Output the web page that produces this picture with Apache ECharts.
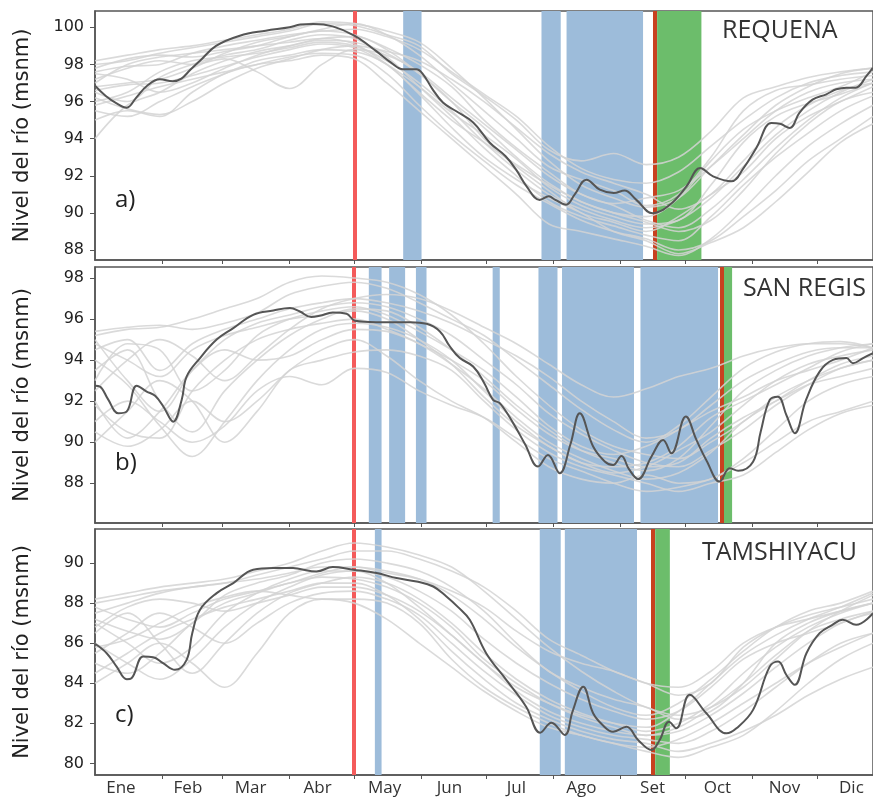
<!DOCTYPE html>
<html>
<head>
<meta charset="utf-8">
<script src="https://cdn.jsdelivr.net/npm/echarts@6/dist/echarts.min.js"></script>
<style>
  html, body { margin: 0; padding: 0; background: #fff; }
  #chart { width: 873px; height: 797px; }
</style>
</head>
<body>
<div id="chart"></div>
<script>
// Day-of-year grid used by the yearly (background) hydrographs
const days = [0,15,30,45,60,75,90,105,120,135,150,165,180,195,210,225,240,255,270,285,300,315,330,345,360];

// Month tick marks (month boundaries) and month labels
const monthTickDays = [31,59,90,120,151,181,212,243,273,304,334];
const monthLabelDays = [12,43,72,103,134,164,195,225,258,288,319,350];
const monthNames = ['Ene','Feb','Mar','Abr','May','Jun','Jul','Ago','Set','Oct','Nov','Dic'];

const stations = ['REQUENA', 'SAN REGIS', 'TAMSHIYACU'];
const panelTags = ['a)', 'b)', 'c)'];
const yTicksA = [88,90,92,94,96,98,100];
const yTicksB = [88,90,92,94,96,98];
const yTicksC = [80,82,84,86,88,90];

// ---------- Requena ----------
const requenaYears = [
  [98.0,98.2,98.6,98.9,99.2,99.5,99.8,100.2,100.1,99.6,99.0,97.5,96.3,95.0,93.4,92.8,93.2,92.6,93.0,94.4,96.2,96.8,97.3,97.6,97.8],
  [96.5,96.0,97.3,98.0,98.5,98.8,99.3,99.6,99.4,98.4,96.8,95.2,93.5,92.0,90.6,89.8,89.3,88.8,88.5,89.8,91.5,93.0,94.3,95.5,96.3],
  [94.0,95.8,96.5,97.5,98.2,98.7,99.0,99.3,99.2,98.6,97.5,96.0,94.0,92.5,91.2,90.0,89.5,89.0,89.8,91.0,92.2,94.0,95.2,96.0,96.8],
  [97.8,98.3,98.5,98.4,98.7,99.0,99.5,99.9,100.2,99.6,98.5,97.0,95.5,94.0,92.5,91.8,91.2,90.4,91.0,93.0,95.5,96.6,96.9,97.2,97.4],
  [95.5,95.2,96.0,96.8,97.5,98.2,98.5,98.8,98.7,98.0,96.4,94.6,93.0,91.8,90.8,90.0,89.0,88.5,87.8,88.4,89.2,90.6,92.2,93.8,94.8],
  [97.2,97.8,98.2,98.0,98.3,97.6,96.7,98.0,98.8,98.5,97.6,96.2,94.8,93.4,92.0,91.0,90.5,90.8,91.2,92.5,94.0,95.5,96.5,97.0,97.2],
  [96.8,97.0,97.2,97.8,98.6,99.2,99.5,99.8,99.6,98.9,98.0,96.8,95.0,93.5,92.2,91.0,90.4,89.6,89.2,90.2,91.8,93.5,95.0,96.2,97.0],
  [95.0,95.5,95.2,96.5,97.5,98.0,98.4,98.6,98.5,97.5,95.8,94.2,92.8,91.5,90.5,89.6,89.0,88.6,88.0,88.5,89.8,91.2,92.8,94.0,95.2],
  [98.2,98.5,98.8,99.0,99.3,99.6,99.9,100.3,100.2,99.8,99.2,97.8,96.2,94.5,92.8,91.5,90.8,90.3,90.8,92.5,94.2,95.8,96.8,97.5,97.8],
  [96.0,96.5,97.6,98.2,98.4,98.6,98.9,99.2,99.0,98.2,97.0,95.5,93.8,92.3,91.0,90.2,89.6,89.2,89.6,90.8,92.5,94.2,95.5,96.5,97.2],
  [97.5,97.2,96.5,97.0,97.8,98.5,99.0,99.4,99.5,98.8,97.5,96.0,94.6,93.0,91.6,90.6,90.0,89.8,90.8,92.8,94.5,95.5,96.2,96.8,97.6],
  [95.8,96.3,96.8,97.2,97.6,98.0,98.2,98.5,98.3,97.0,95.5,94.0,92.5,91.0,89.4,89.0,88.6,88.2,87.7,88.6,90.2,92.0,93.6,94.8,95.8],
  [97.0,98.0,98.4,98.6,98.8,99.0,99.2,99.4,99.1,98.0,96.5,95.0,93.8,92.6,91.5,90.6,90.0,89.5,89.0,89.6,91.2,93.2,94.8,96.0,96.5],
  [96.2,95.6,95.3,96.0,97.0,97.8,98.3,98.8,99.0,98.7,98.2,97.2,96.0,94.6,93.2,92.2,91.6,91.0,90.2,91.0,92.8,94.6,95.8,96.6,97.0],
  [97.6,97.9,98.0,98.6,99.0,99.3,99.6,99.8,99.9,99.5,98.8,97.6,96.4,95.2,93.6,92.4,91.8,91.6,92.2,93.6,95.0,96.2,97.0,97.4,97.6],
  [96.6,96.9,97.0,97.4,97.9,98.4,98.8,99.1,98.9,98.0,96.8,95.4,94.2,92.9,91.4,90.4,89.8,89.4,89.6,91.5,93.8,95.2,95.9,96.4,97.0]
];
const requenaHighlight = [
  [0,96.85],[5,96.3],[10,95.9],[14.7,95.67],[19,96.2],[24,96.84],[30,97.2],[36,97.1],[40,97.24],[44,97.7],
  [48.6,98.2],[56,99.0],[67,99.55],[79,99.82],[90,100.0],[95,100.15],[101,100.18],[110,100.05],[120,99.55],
  [130,98.73],[137,98.1],[142.5,97.74],[148.7,97.74],[151.8,97.47],[156,96.7],[161,95.95],[167,95.49],
  [175,94.87],[182.7,93.78],[190,93.05],[195,92.3],[199.7,91.43],[205.8,90.7],[210,90.89],[213,90.7],
  [218,90.44],[222,91.0],[227.4,91.79],[233.6,91.25],[240,91.07],[245,91.2],[250.5,90.7],[258,89.98],
  [266,90.44],[273.7,91.43],[280,92.42],[286,91.97],[294.5,91.7],[300,92.4],[306,93.5],[313,94.85],
  [317,94.8],[321.5,94.58],[326,95.4],[332,96.1],[338.4,96.39],[343,96.66],[347.7,96.75],[352,96.75],
  [357,97.38],[360,97.83]
];
const requenaBlue = [[142.6,151.1],[206.6,215.5],[218.2,253.6]];
const requenaGreen = [[260.1,280.6]];
const requenaStart = 120.3;
const requenaEnd = 259.2;

// ---------- San Regis ----------
const sanRegisYears = [
  [94.5,95.0,93.5,94.8,95.5,96.0,96.5,96.8,97.0,96.8,96.4,95.8,95.0,94.2,93.2,92.0,91.0,90.2,90.6,91.8,93.0,93.8,94.4,94.6,94.6],
  [91.8,90.5,90.2,92.5,94.0,95.0,95.5,95.8,96.0,95.5,94.8,93.8,92.6,91.2,90.0,89.2,88.6,88.2,88.5,89.5,91.0,92.0,93.0,93.8,94.2],
  [93.5,94.5,92.0,90.5,92.5,94.0,95.2,96.0,96.5,96.4,95.6,94.5,93.2,91.8,90.6,89.6,89.0,88.6,89.2,90.8,92.5,93.5,94.2,94.6,94.8],
  [95.0,93.0,91.5,93.5,95.0,95.8,96.2,96.6,96.8,96.6,96.0,95.2,94.0,92.8,91.4,90.4,89.6,89.0,88.8,89.6,90.6,91.8,92.8,93.6,94.0],
  [90.0,91.5,93.0,92.0,90.0,91.5,93.5,94.0,94.4,94.5,94.2,93.5,92.0,90.6,89.5,88.8,88.4,88.0,87.6,88.0,88.4,89.5,90.6,91.4,91.8],
  [92.5,94.0,95.0,94.2,93.0,94.2,95.5,96.5,97.0,97.2,97.0,96.4,95.6,94.8,93.8,92.8,92.2,92.6,93.2,93.6,94.2,94.6,94.8,94.8,94.6],
  [94.0,92.8,90.8,89.3,91.0,93.0,94.5,95.5,95.8,95.6,95.0,94.0,92.5,91.0,89.8,89.0,88.5,88.8,89.6,90.5,91.8,93.0,93.8,94.2,94.5],
  [95.2,95.5,95.6,96.0,96.5,97.0,97.8,98.1,98.0,97.8,97.2,96.2,94.8,93.2,91.8,90.6,89.8,89.4,89.2,90.0,91.0,92.2,93.0,93.6,94.0],
  [91.0,92.0,91.0,90.0,90.8,92.5,93.2,92.8,93.6,93.4,92.5,91.8,91.2,90.2,89.2,88.6,88.0,87.6,87.8,88.2,89.0,90.0,91.0,91.5,92.0],
  [93.0,94.8,94.5,92.5,93.5,95.2,96.0,96.4,96.6,96.2,95.4,94.5,93.5,92.2,90.8,89.8,89.4,89.8,90.6,91.5,92.2,93.0,93.5,94.0,94.6],
  [94.8,94.0,93.2,94.5,95.2,95.6,96.0,96.2,96.4,96.0,95.0,93.8,92.2,90.8,89.8,89.0,88.8,89.0,89.8,91.2,92.0,92.8,93.6,94.4,94.8],
  [92.0,90.2,91.5,93.5,94.5,94.0,94.2,95.0,95.5,95.4,94.8,94.0,93.0,91.6,90.4,89.6,89.2,88.8,89.0,90.2,91.2,92.0,92.8,93.2,93.6],
  [95.4,95.6,95.7,95.5,95.8,96.3,97.2,97.6,97.8,97.5,96.8,96.0,95.2,94.0,92.8,91.6,90.6,90.0,90.8,92.2,93.6,94.4,94.8,94.9,94.6],
  [90.5,89.8,90.6,92.0,91.0,92.0,93.5,94.5,95.0,94.2,93.0,92.0,91.2,90.0,88.8,88.2,88.0,88.4,88.0,88.2,89.2,90.6,92.0,92.8,93.2]
];
const sanRegisHighlight = [
  [0,92.75],[2.3,92.71],[6,92.1],[10.8,91.41],[14.7,91.5],[19.3,92.75],[23.9,92.47],[27.8,92.26],[31.6,91.74],
  [36.2,91.0],[40.1,92.06],[42.4,93.2],[48.6,94.1],[56.3,95.0],[64,95.56],[73.2,96.21],[82.5,96.42],[90.2,96.54],
  [94.8,96.37],[100,96.1],[104,96.16],[110,96.32],[116.4,96.26],[120.3,95.92],[130,95.85],[138,95.85],[146,95.85],
  [153.4,95.77],[159.6,95.4],[164,94.7],[168.8,94.1],[175,93.69],[180,92.9],[184.2,92.06],[187.3,91.9],
  [193.5,90.93],[199,89.9],[205,88.81],[209.6,89.38],[215,88.49],[220,89.9],[224.3,91.41],[230.5,89.79],
  [236,89.05],[239.7,88.89],[243.6,89.33],[247,88.7],[251.3,88.2],[257.5,89.3],[262.9,90.11],[266.7,89.46],
  [273.4,91.25],[278.3,90.11],[283,89.1],[289,88.08],[293.7,88.73],[297.6,88.61],[304.5,89.05],[308,90.5],
  [312.2,92.06],[316,92.22],[320,91.3],[323.8,90.44],[329,92.06],[335.3,93.44],[341.5,94.01],[347.7,94.1],
  [350.7,93.85],[355.4,94.1],[360,94.34]
];
const sanRegisBlue = [[126.7,132.6],[136.1,143.5],[148.5,153.4],[184.0,187.3],[205.2,214.0],[216.1,249.4],[252.4,288.3]];
const sanRegisGreen = [[290.9,294.8]];
const sanRegisStart = 119.8;
const sanRegisEnd = 289.9;

// ---------- Tamshiyacu ----------
const tamshiyacuYears = [
  [87.5,88.0,88.5,88.8,89.0,89.2,89.5,89.8,89.8,89.5,89.2,88.6,87.8,86.6,85.6,85.0,84.6,84.0,83.8,84.6,86.0,86.8,87.2,87.6,88.0],
  [85.0,84.5,85.5,87.0,88.0,88.5,89.0,89.3,89.2,88.8,88.0,86.8,85.2,84.0,83.0,82.3,81.8,81.4,81.6,82.4,83.5,84.8,86.0,87.0,87.5],
  [86.5,87.5,86.0,84.5,86.0,87.5,88.5,89.0,89.3,89.0,88.2,87.0,85.5,84.2,83.2,82.5,82.0,81.6,82.0,83.0,84.5,85.8,86.8,87.5,88.0],
  [88.0,88.3,88.6,88.8,89.0,89.4,89.8,90.2,90.6,90.6,90.2,89.6,88.8,87.6,86.2,85.4,84.6,84.0,83.4,84.0,85.8,86.8,87.4,87.8,88.2],
  [84.5,85.5,86.5,87.2,87.8,88.2,88.6,89.0,89.0,88.4,87.2,85.6,84.2,83.0,82.2,81.6,81.2,81.0,80.6,81.0,81.6,82.4,83.4,84.2,84.8],
  [87.0,86.0,85.0,85.8,87.5,88.5,89.2,89.6,89.6,89.3,88.6,87.6,86.2,85.0,84.0,83.2,82.6,82.2,82.6,83.8,85.2,86.0,86.5,87.0,87.6],
  [85.5,86.5,87.5,86.8,86.0,87.0,88.0,88.5,88.6,88.2,87.4,86.0,84.6,83.4,82.4,81.8,81.4,81.2,81.0,81.6,82.6,83.8,85.0,86.0,86.5],
  [88.2,88.5,88.8,89.0,89.2,89.6,90.0,90.6,91.0,90.8,90.4,89.8,88.6,87.2,85.8,84.6,83.6,82.8,82.4,82.8,83.8,85.2,86.6,87.6,88.4],
  [86.0,85.0,84.2,85.2,86.8,88.0,88.8,89.4,89.6,89.0,87.8,86.4,85.0,83.8,83.0,82.4,82.0,81.8,82.6,84.0,85.4,86.4,87.2,87.8,88.5],
  [84.0,85.0,86.0,85.0,83.8,85.5,87.5,88.2,88.0,87.2,86.0,84.8,83.6,82.6,81.8,81.4,81.0,80.8,81.2,82.0,83.0,84.0,85.0,85.8,86.5],
  [87.8,87.2,86.8,87.5,88.2,88.6,89.0,89.5,89.8,89.6,89.2,88.4,87.2,85.8,84.6,83.6,82.8,82.4,83.0,84.2,85.6,86.8,87.6,88.0,88.6],
  [86.8,87.8,88.2,88.0,87.6,88.0,88.4,88.8,88.8,88.4,87.6,86.4,85.0,83.6,82.6,82.0,81.6,81.4,81.8,82.8,84.0,85.4,86.6,87.2,87.6],
  [87.2,86.6,86.2,87.0,88.4,89.0,89.4,90.0,90.2,90.0,89.6,88.8,87.6,86.0,84.6,83.8,83.2,82.8,82.2,82.6,84.0,86.0,87.0,87.6,88.0],
  [85.8,86.2,87.0,87.8,88.3,88.6,88.4,88.2,88.2,88.0,87.0,85.2,83.8,82.8,82.0,81.4,81.0,80.6,80.3,80.8,81.4,82.6,84.0,85.2,86.0]
];
const tamshiyacuHighlight = [
  [0,85.97],[5.4,85.5],[10,84.83],[14.7,84.2],[16.9,84.25],[22.3,85.33],[26.9,85.3],[31.5,85.0],[37,84.67],
  [42.4,85.17],[45,86.5],[48.6,87.67],[56.3,88.5],[64,89.0],[73.2,89.67],[82.5,89.75],[91.7,89.75],[94.8,89.7],
  [102.5,89.58],[110,89.8],[119.5,89.67],[130.3,89.5],[139.5,89.25],[148.8,89.08],[156.5,88.83],[162.6,88.33],
  [168,87.8],[173.4,87.17],[181,85.5],[190.3,84.17],[199.5,82.83],[206,81.53],[211.2,82.03],[217.4,81.42],
  [221,82.6],[225.9,83.83],[230.5,82.5],[235,81.9],[239.7,81.58],[245.9,81.83],[251.3,81.17],[257.5,80.67],
  [261.3,81.17],[265.6,82.08],[269,81.75],[275.2,83.42],[282.9,82.5],[292.2,81.5],[296.8,81.75],[304.5,82.67],
  [312.2,84.83],[316.1,85.08],[320,84.4],[323.8,83.92],[329.2,85.5],[335.3,86.5],[341,86.9],[346,87.17],
  [352.2,86.92],[360,87.5]
];
const tamshiyacuBlue = [[129.5,132.6],[205.8,215.5],[217.4,250.8]];
const tamshiyacuGreen = [[259.2,266.0]];
const tamshiyacuStart = 119.5;
const tamshiyacuEnd = 258.0;

// ---------- layout ----------
const panels = [
  { years: requenaYears, main: requenaHighlight, blue: requenaBlue, green: requenaGreen, start: requenaStart, end: requenaEnd,
    yMin: 87.46, yMax: 100.88, yTicks: yTicksA, top: 11, height: 249 },
  { years: sanRegisYears, main: sanRegisHighlight, blue: sanRegisBlue, green: sanRegisGreen, start: sanRegisStart, end: sanRegisEnd,
    yMin: 86.06, yMax: 98.54, yTicks: yTicksB, top: 267, height: 256 },
  { years: tamshiyacuYears, main: tamshiyacuHighlight, blue: tamshiyacuBlue, green: tamshiyacuGreen, start: tamshiyacuStart, end: tamshiyacuEnd,
    yMin: 79.42, yMax: 91.7, yTicks: yTicksC, top: 529, height: 246 }
];

const FRAME = '#555';
const grid = [], xAxis = [], yAxis = [], series = [], graphic = [];

panels.forEach((p, i) => {
  grid.push({ left: 95, width: 779, top: p.top, height: p.height, show: true,
    borderColor: FRAME, borderWidth: 1.5, backgroundColor: '#fff' });

  xAxis.push({
    type: 'value', gridIndex: i, min: 0, max: 360,
    axisLine: { show: true, lineStyle: { color: FRAME, width: 1.5 } },
    axisTick: { show: true, customValues: monthTickDays, length: 4, lineStyle: { color: FRAME } },
    axisLabel: {
      show: i === 2, customValues: monthLabelDays, margin: 5,
      fontFamily: 'Open Sans', fontSize: 17, color: '#333',
      formatter: v => monthNames[monthLabelDays.indexOf(v)] || ''
    },
    splitLine: { show: false }
  });

  yAxis.push({
    type: 'value', gridIndex: i, min: p.yMin, max: p.yMax,
    name: 'Nivel del río (msnm)', nameLocation: 'middle', nameGap: 62,
    nameTextStyle: { fontFamily: 'DejaVu Sans', fontSize: 21, color: '#222' },
    axisLine: { show: true, lineStyle: { color: FRAME, width: 1.5 } },
    axisTick: { show: true, customValues: p.yTicks, length: 5, lineStyle: { color: FRAME } },
    axisLabel: { customValues: p.yTicks, margin: 11, fontFamily: 'DejaVu Sans', fontSize: 16, color: '#222' },
    splitLine: { show: false }
  });

  // shaded periods and vertical markers (bottom layer)
  series.push({
    type: 'line', xAxisIndex: i, yAxisIndex: i, data: [], zlevel: 0, z: 1, silent: true,
    markArea: {
      silent: true,
      data: p.blue.map(b => [{ xAxis: b[0], itemStyle: { color: '#9dbcda' } }, { xAxis: b[1] }])
        .concat(p.green.map(g => [{ xAxis: g[0], itemStyle: { color: '#6cbd6b' } }, { xAxis: g[1] }]))
    },
    markLine: {
      silent: true, symbol: 'none', label: { show: false },
      data: [
        { xAxis: p.start, lineStyle: { color: '#f45b5b', width: 4, type: 'solid' } },
        { xAxis: p.end, lineStyle: { color: '#c8411f', width: 4, type: 'solid' } }
      ]
    }
  });

  // yearly hydrographs
  p.years.forEach(arr => {
    series.push({
      type: 'line', xAxisIndex: i, yAxisIndex: i, zlevel: 1, z: 2, silent: true,
      showSymbol: false, smooth: 0.35,
      lineStyle: { color: '#d4d4d4', width: 1.6, opacity: 0.85 },
      data: arr.map((v, k) => [days[k], v])
    });
  });

  // highlighted year
  series.push({
    type: 'line', xAxisIndex: i, yAxisIndex: i, zlevel: 1, z: 3, silent: true,
    showSymbol: false, smooth: 0.4,
    lineStyle: { color: '#555', width: 2 },
    data: p.main
  });

  graphic.push({
    type: 'text', left: 115, top: p.top + p.height - 72,
    style: { text: panelTags[i], font: '24px "Open Sans"', fill: '#222' }
  });
});

graphic.push({ type: 'text', left: 722, top: 18, style: { text: stations[0], font: '25px "Open Sans"', fill: '#333' } });
graphic.push({ type: 'text', left: 743, top: 276, style: { text: stations[1], font: '25px "Open Sans"', fill: '#333' } });
graphic.push({ type: 'text', left: 702, top: 540, style: { text: stations[2], font: '25px "Open Sans"', fill: '#333' } });

const chart = echarts.init(document.getElementById('chart'), null, { renderer: 'canvas' });
chart.setOption({
  animation: false,
  backgroundColor: '#fff',
  grid, xAxis, yAxis, series, graphic
});
</script>
</body>
</html>
